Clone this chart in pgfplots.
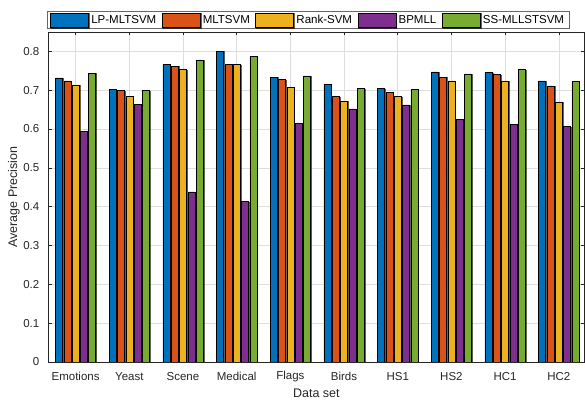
\documentclass[border=0pt]{standalone}
\usepackage{fontspec}
\setmainfont{Liberation Sans}
\usepackage{pgfplots}
\pgfplotsset{compat=1.18}
\usetikzlibrary{shadows}
\definecolor{c1}{rgb}{0,0.447,0.741}
\definecolor{c2}{rgb}{0.85,0.325,0.098}
\definecolor{c3}{rgb}{0.929,0.694,0.125}
\definecolor{c4}{rgb}{0.494,0.184,0.556}
\definecolor{c5}{rgb}{0.466,0.674,0.188}
\definecolor{txt}{gray}{0.15}
\definecolor{gridc}{gray}{0.87}
\pgfplotstableread{
x  lp     ml     rank   bp     ss
1  0.732  0.724  0.714  0.594  0.744
2  0.702  0.699  0.685  0.664  0.700
3  0.767  0.762  0.754  0.438  0.778
4  0.801  0.766  0.766  0.413  0.787
5  0.734  0.727  0.707  0.615  0.737
6  0.715  0.684  0.672  0.652  0.704
7  0.705  0.695  0.684  0.662  0.702
8  0.747  0.734  0.724  0.625  0.742
9  0.745  0.740  0.724  0.612  0.754
10 0.724  0.711  0.670  0.607  0.722
}\data
\begin{document}
\begin{tikzpicture}
\begin{axis}[
  name=ax,
  scale only axis, width=535.4pt, height=330pt,
  xmin=0.5, xmax=10.47, ymin=0, ymax=0.85,
  xtick={1,...,10},
  xticklabels={Emotions,Yeast,Scene,Medical,Flags,Birds,HS1,HS2,HC1,HC2},
  ytick={0,0.1,0.2,0.3,0.4,0.5,0.6,0.7,0.8},
  yticklabels={0,0.1,0.2,0.3,0.4,0.5,0.6,0.7,0.8},
  ybar=1.3pt, bar width=7pt,
  grid=major, major grid style={gridc, line width=0.5pt},
  axis line style={txt, line width=0.6pt},
  tick style={txt, line width=0.5pt},
  tick align=inside, major tick length=3.5pt, tick pos=both,
  ticklabel style={txt, font=\fontsize{11.5}{13}\selectfont},
  xticklabel style={anchor=center, yshift=-15pt},
  yticklabel style={anchor=east, xshift=-6pt},
  xlabel={Data set}, ylabel={Average Precision},
  every axis x label/.style={at={(axis description cs:0.5,0)}, anchor=center, yshift=-31pt, text=txt, font=\fontsize{12.5}{14}\selectfont},
  every axis y label/.style={at={(axis description cs:0,0.5)}, anchor=center, xshift=-35pt, rotate=90, text=txt, font=\fontsize{12.5}{14}\selectfont},
  legend columns=5,
  legend image code/.code={\draw[#1, draw=black, line width=0.6pt] (0pt,-7.5pt) rectangle (38pt,7pt);},
  legend style={at={(axis description cs:0,1)}, anchor=south west, xshift=-1.8pt, yshift=3pt,
    draw=txt!70, line width=0.5pt, fill=white, font=\fontsize{11.5}{13}\selectfont, text=black,
    inner ysep=1pt, inner xsep=3pt,
    nodes={inner xsep=2.5pt, inner ysep=1.5pt},
    /tikz/every even column/.append style={column sep=3pt}},
]
\addplot[fill=c1, draw=black, line width=0.5pt, drop shadow={shadow xshift=0.8pt, shadow yshift=-0.6pt, fill=gray, opacity=0.6}] table[x=x,y=lp]{\data};
\addplot[fill=c2, draw=black, line width=0.5pt, drop shadow={shadow xshift=0.8pt, shadow yshift=-0.6pt, fill=gray, opacity=0.6}] table[x=x,y=ml]{\data};
\addplot[fill=c3, draw=black, line width=0.5pt, drop shadow={shadow xshift=0.8pt, shadow yshift=-0.6pt, fill=gray, opacity=0.6}] table[x=x,y=rank]{\data};
\addplot[fill=c4, draw=black, line width=0.5pt, drop shadow={shadow xshift=0.8pt, shadow yshift=-0.6pt, fill=gray, opacity=0.6}] table[x=x,y=bp]{\data};
\addplot[fill=c5, draw=black, line width=0.5pt, drop shadow={shadow xshift=0.8pt, shadow yshift=-0.6pt, fill=gray, opacity=0.6}] table[x=x,y=ss]{\data};
\legend{LP-MLTSVM,MLTSVM,Rank-SVM,BPMLL,SS-MLLSTSVM}
\coordinate (bl) at (rel axis cs:0,0);
\coordinate (tr) at (rel axis cs:1,1);
\end{axis}
\pgfresetboundingbox
\path[use as bounding box] ([shift={(-48.8pt,-39pt)}]bl) rectangle ([shift={(1pt,32pt)}]tr);
\end{tikzpicture}
\end{document}
